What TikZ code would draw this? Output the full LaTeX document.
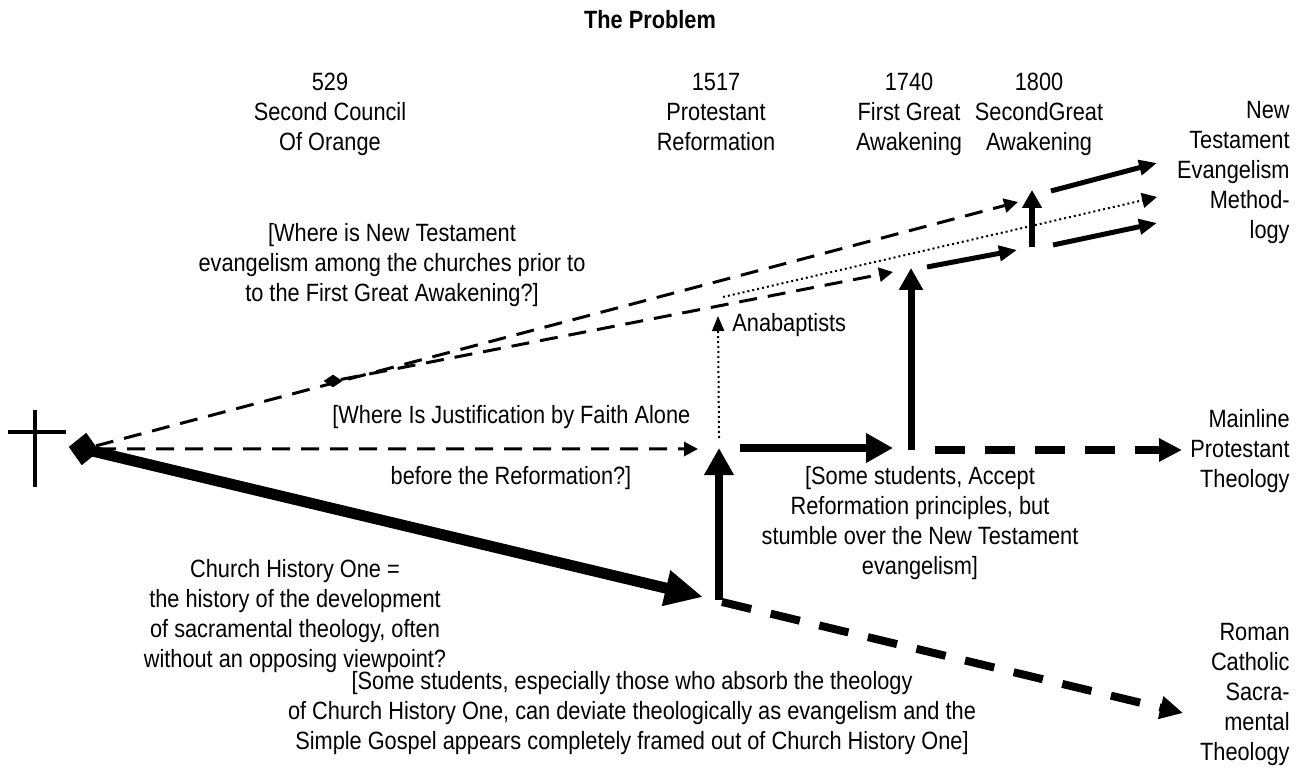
\documentclass[tikz,border=0pt]{standalone}
\usepackage{fontspec}
\setmainfont[FakeStretch=0.87]{Liberation Sans}
\usetikzlibrary{arrows.meta,shapes.geometric}
\tikzset{>=latex}
\tikzstyle{txt}=[font=\fontsize{12.5}{15}\selectfont, align=center, inner sep=0pt]
\tikzstyle{thindash}=[line width=1.5pt, dash pattern=on 9pt off 5.5pt, -{Triangle[length=7pt,width=7pt]}]
\tikzstyle{thickdash}=[line width=4pt, dash pattern=on 15pt off 10pt, -{Triangle[length=11.5pt,width=11pt]}]
\tikzstyle{dotline}=[line width=1pt, dash pattern=on 1pt off 1.5pt]
\tikzstyle{heavy}=[line width=4pt, -{Triangle[length=13.5pt,width=14pt]}]
\tikzstyle{medarrow}=[line width=2.5pt, -{Triangle[length=9pt,width=7.5pt]}]

\begin{document}
\begin{tikzpicture}[x=0.5pt, y=-0.5pt]
    \useasboundingbox (0,0) rectangle (1310,769);
    % Title and dates
    \node[txt, font=\fontsize{12.5}{15}\selectfont\bfseries] (title) at (650,20) {The Problem};
    \node[txt, anchor=north] (orange) at (330,73) {529\\Second Council\\Of Orange};
    \node[txt, anchor=north] (reform) at (716,73) {1517\\Protestant\\Reformation};
    \node[txt, anchor=north] (first) at (909,73) {1740\\First Great\\Awakening};
    \node[txt, anchor=north] (second) at (1039,73) {1800\\SecondGreat\\Awakening};

    % Outcomes on the right
    \node[txt, align=right, anchor=north east] (ntem) at (1290,101) {New\\Testament\\Evangelism\\Method-\\logy};
    \node[txt, align=right, anchor=north east] (mpt) at (1290,409) {Mainline\\Protestant\\Theology};
    \node[txt, align=right, anchor=north east] (rcst) at (1290,623) {Roman\\Catholic\\Sacra-\\mental\\Theology};

    % The cross and the starting diamond
    \draw[line width=2pt] (35,410) -- (35,487);
    \draw[line width=2pt] (8,432) -- (66,432);
    \node[diamond, fill, inner sep=0pt, minimum width=15.5pt, minimum height=16.5pt, rotate=-8] (start) at (84,449) {};
    \node[diamond, fill, inner sep=0pt, minimum width=9.5pt, minimum height=6.5pt] (fork) at (333,381) {};

    % Free ends of the connectors
    \coordinate (hisEnd) at (703,597);
    \coordinate (jfTip) at (698,449);
    \coordinate (ntUpper) at (1018,202);
    \coordinate (ntLower) at (893,272);
    \coordinate (anaTop) at (718,316);
    \coordinate (anaBot) at (719,438);
    \coordinate (dotS) at (723,297);
    \coordinate (dotE) at (1157,197);
    \coordinate (refBot) at (719,600);
    \coordinate (refTop) at (719,448);
    \coordinate (refR) at (740,448);
    \coordinate (refTip) at (893,448);
    \coordinate (fgaBot) at (911,450);
    \coordinate (fgaTop) at (911,268);
    \coordinate (mainS) at (935,450);
    \coordinate (mainE) at (1182,450);
    \coordinate (romS) at (722,602);
    \coordinate (romE) at (1183,713);
    \coordinate (a1s) at (927,267);
    \coordinate (a1e) at (1017,250);
    \coordinate (sgaBot) at (1032,247);
    \coordinate (sgaTop) at (1032,190);
    \coordinate (a2s) at (1053,245);
    \coordinate (a2e) at (1157,223);
    \coordinate (a3s) at (1051,191);
    \coordinate (a3e) at (1157,163);

    % Church history one, the heavy line
    \draw[line width=5.5pt, -{Triangle[length=19pt,width=17pt]}] (start.center) -- (hisEnd);
    \draw[thindash] (start) -- (jfTip);
    \draw[thindash] (start) -- (ntUpper);
    \draw[thindash] (fork) -- (ntLower);

    % Reformation and after
    \draw[dotline, -{Triangle[length=7.5pt,width=6pt]}] (anaBot) -- (anaTop);
    \draw[dotline, -{Triangle[length=7.5pt,width=7.5pt]}] (dotS) -- (dotE);
    \draw[heavy] (refBot) -- (refTop);
    \draw[heavy] (refR) -- (refTip);
    \draw[line width=3.5pt, -{Triangle[length=11pt,width=11.5pt]}] (fgaBot) -- (fgaTop);
    \draw[thickdash] (mainS) -- (mainE);
    \draw[thickdash] (romS) -- (romE);

    % Great awakenings
    \draw[medarrow] (a1s) -- (a1e);
    \draw[line width=3pt, -{Triangle[length=9pt,width=9.5pt]}] (sgaBot) -- (sgaTop);
    \draw[medarrow] (a2s) -- (a2e);
    \draw[medarrow] (a3s) -- (a3e);

    % Questions and remarks
    \node[txt] (ntq) at (392,265) {[Where is New Testament\\evangelism among the churches prior to\\to the First Great Awakening?]};
    \node[txt, anchor=west] (jfq1) at (332,417) {[Where Is Justification by Faith Alone};
    \node[txt] (jfq2) at (511,478) {before the Reformation?]};
    \node[txt, anchor=west] (ana) at (732,325) {Anabaptists};
    \node[txt] (stq) at (920,523) {[Some students, Accept\\Reformation principles, but\\stumble over the New Testament\\evangelism]};
    \node[txt] (cho) at (295,616) {Church History One =\\the history of the development\\of sacramental theology, often\\without an opposing viewpoint?};
    \node[txt] (devq) at (632,713) {[Some students, especially those who absorb the theology\\of Church History One, can deviate theologically as evangelism and the\\Simple Gospel appears completely framed out of Church History One]};
\end{tikzpicture}
\end{document}
